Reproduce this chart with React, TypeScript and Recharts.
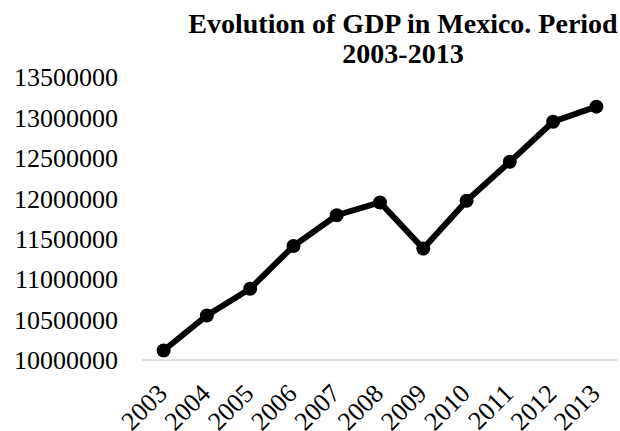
import { LineChart, Line, XAxis, YAxis } from "recharts";

// GDP readings (pesos), one per year
const years = ["2003", "2004", "2005", "2006", "2007", "2008", "2009", "2010", "2011", "2012", "2013"];
const gdp = [10118000, 10551000, 10882000, 11410000, 11791000, 11948000, 11378000, 11968000, 12451000, 12947000, 13133000];
const yTicks = [10000000, 10500000, 11000000, 11500000, 12000000, 12500000, 13000000, 13500000];

const FONT = '"Liberation Serif", "Times New Roman", serif';

const data = years.map((year, i) => ({ year, gdp: gdp[i] }));

function YearTick(props: any) {
  const { x, y, payload } = props;
  const ax = x + 5;
  const ay = y + 33;
  return (
    <text
      x={ax}
      y={ay}
      textAnchor="end"
      fontFamily={FONT}
      fontSize={26}
      fill="#000"
      transform={`rotate(-45, ${ax}, ${ay})`}
    >
      {payload.value}
    </text>
  );
}

export default function App() {
  return (
    <div style={{ position: "absolute", left: 0, top: 0, width: 620, height: 431, background: "#fff" }}>
      <div
        style={{
          position: "absolute",
          left: 183,
          top: 9,
          width: 440,
          textAlign: "center",
          fontFamily: FONT,
          fontWeight: "bold",
          fontSize: 28,
          lineHeight: "30px",
          whiteSpace: "nowrap",
          color: "#000",
        }}
      >
        Evolution of GDP in Mexico. Period
        <br />
        2003-2013
      </div>
      <LineChart width={620} height={431} data={data} margin={{ top: 77, right: 2, bottom: 0, left: 0 }}>
        <XAxis
          dataKey="year"
          tickLine={false}
          axisLine={{ stroke: "#d9d9d9", strokeWidth: 1.5 }}
          tick={<YearTick />}
          interval={0}
          height={71}
          tickSize={0}
          padding={{ left: 21.6, right: 21.6 }}
        />
        <YAxis
          domain={[10000000, 13500000]}
          ticks={yTicks}
          width={142}
          tickLine={false}
          axisLine={false}
          tickSize={0}
          tickMargin={24}
          interval={0}
          tick={{ fontFamily: FONT, fontSize: 26, fill: "#000" }}
        />
        <Line
          type="linear"
          dataKey="gdp"
          stroke="#000"
          strokeWidth={6}
          dot={{ r: 7, fill: "#000", stroke: "#000", strokeWidth: 0 }}
          isAnimationActive={false}
        />
      </LineChart>
    </div>
  );
}
